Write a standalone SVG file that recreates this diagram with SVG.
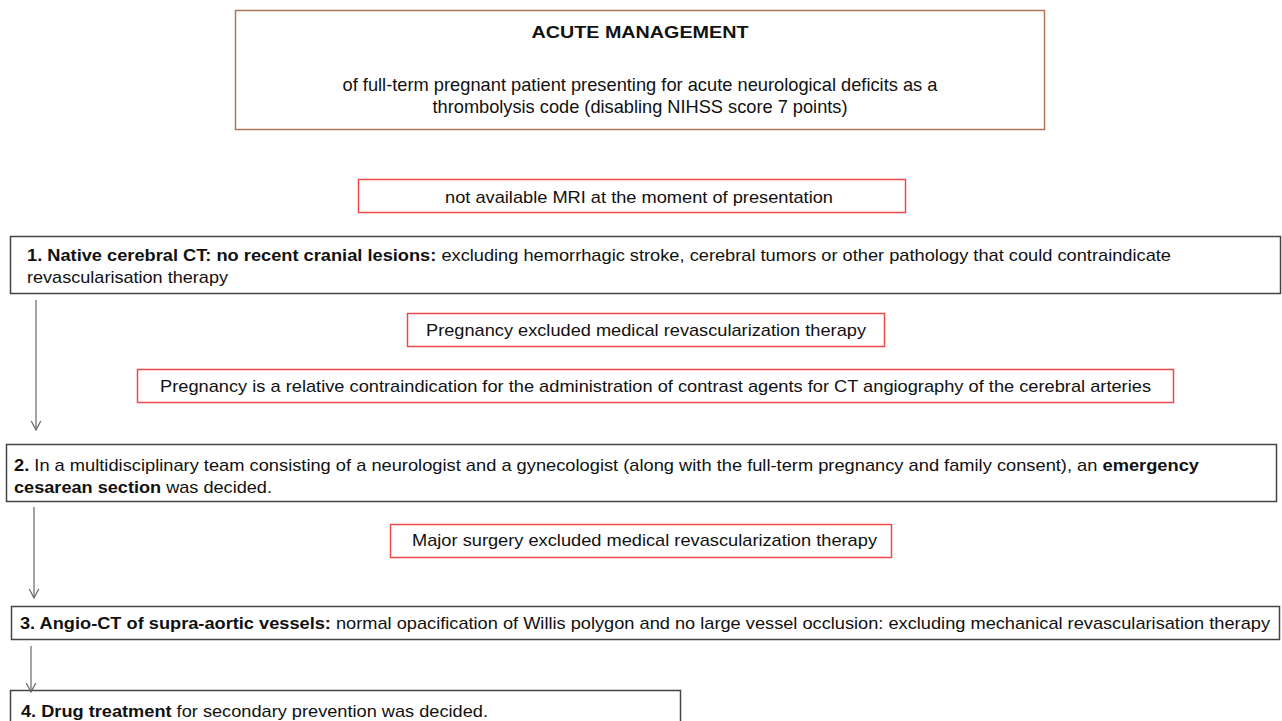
<svg xmlns="http://www.w3.org/2000/svg" width="1282" height="721" viewBox="0 0 1282 721">
  <style>
    .t { font-family: "Liberation Sans", Arial, sans-serif; fill: #111; font-size: 17px; }
    .n { font-size: 19px; }
    .b { font-weight: bold; }
    .main { fill: #fff; stroke: #444; stroke-width: 1.5; }
    .note { fill: #fff; stroke: #ee4a4a; stroke-width: 1.5; }
    .head { fill: #fff; stroke: #b07555; stroke-width: 1.5; }
    .conn { stroke: #666; stroke-width: 1.2; fill: none; marker-end: url(#chev); }
  </style>
  <defs>
    <!-- open chevron arrowhead, drawn pointing along +x -->
    <marker id="chev" viewBox="0 0 10 12" refX="9.5" refY="6" markerWidth="10" markerHeight="12" markerUnits="userSpaceOnUse" orient="auto">
      <path d="M0 1 L9.5 6 L0 11" fill="none" stroke="#666" stroke-width="1.2"/>
    </marker>
  </defs>
  <rect width="1282" height="721" fill="#fff"/>

  <g id="header">
    <rect class="head" x="235.5" y="10.5" width="809" height="119"/>
    <text class="t b" x="640" y="38" text-anchor="middle" textLength="217" lengthAdjust="spacingAndGlyphs" font-size="21">ACUTE MANAGEMENT</text>
    <text class="t n" x="640" y="91" text-anchor="middle" textLength="595" lengthAdjust="spacingAndGlyphs">of full-term pregnant patient presenting for acute neurological deficits as a</text>
    <text class="t n" x="640" y="113" text-anchor="middle" textLength="415" lengthAdjust="spacingAndGlyphs">thrombolysis code (disabling NIHSS score 7 points)</text>
  </g>

  <g id="note-mri">
    <rect class="note" x="358.5" y="179.5" width="547" height="33"/>
    <text class="t" x="639" y="203" text-anchor="middle" textLength="388" lengthAdjust="spacingAndGlyphs">not available MRI at the moment of presentation</text>
  </g>

  <g id="step1">
    <rect class="main" x="10.5" y="236.5" width="1270" height="57"/>
    <text class="t" x="27" y="261" textLength="1144" lengthAdjust="spacingAndGlyphs"><tspan class="b">1. Native cerebral CT: no recent cranial lesions:</tspan> excluding hemorrhagic stroke, cerebral tumors or other pathology that could contraindicate</text>
    <text class="t" x="27" y="283" textLength="201" lengthAdjust="spacingAndGlyphs">revascularisation therapy</text>
  </g>

  <g id="note-pregnancy">
    <rect class="note" x="407.5" y="313.5" width="477" height="33"/>
    <text class="t" x="646" y="336" text-anchor="middle" textLength="440" lengthAdjust="spacingAndGlyphs">Pregnancy excluded medical revascularization therapy</text>
  </g>

  <g id="note-contrast">
    <rect class="note" x="137.5" y="369.5" width="1036" height="33"/>
    <text class="t" x="655.5" y="392" text-anchor="middle" textLength="991" lengthAdjust="spacingAndGlyphs">Pregnancy is a relative contraindication for the administration of contrast agents for CT angiography of the cerebral arteries</text>
  </g>

  <g id="step2">
    <rect class="main" x="6.5" y="444.5" width="1270" height="57"/>
    <text class="t" x="14" y="471" textLength="1185" lengthAdjust="spacingAndGlyphs"><tspan class="b">2.</tspan> In a multidisciplinary team consisting of a neurologist and a gynecologist (along with the full-term pregnancy and family consent), an <tspan class="b">emergency</tspan></text>
    <text class="t" x="14" y="493" textLength="258" lengthAdjust="spacingAndGlyphs"><tspan class="b">cesarean section</tspan> was decided.</text>
  </g>

  <g id="note-surgery">
    <rect class="note" x="390.5" y="524.5" width="501" height="33"/>
    <text class="t" x="644.5" y="546" text-anchor="middle" textLength="465" lengthAdjust="spacingAndGlyphs">Major surgery excluded medical revascularization therapy</text>
  </g>

  <g id="step3">
    <rect class="main" x="11.5" y="606.5" width="1268" height="33"/>
    <text class="t" x="20" y="629" font-size="18.5" textLength="1250" lengthAdjust="spacingAndGlyphs"><tspan class="b">3. Angio-CT of supra-aortic vessels:</tspan> normal opacification of Willis polygon and no large vessel occlusion: excluding mechanical revascularisation therapy</text>
  </g>

  <g id="step4">
    <rect class="main" x="10.5" y="690.5" width="670" height="40"/>
    <text class="t" x="21" y="717" font-size="18.5" textLength="467" lengthAdjust="spacingAndGlyphs"><tspan class="b">4. Drug treatment</tspan> for secondary prevention was decided.</text>
  </g>

  <g id="connectors">
    <line class="conn" x1="36" y1="300" x2="36" y2="430"/>
    <line class="conn" x1="34" y1="507" x2="34" y2="598"/>
    <line class="conn" x1="31" y1="646" x2="31" y2="692"/>
  </g>
</svg>
